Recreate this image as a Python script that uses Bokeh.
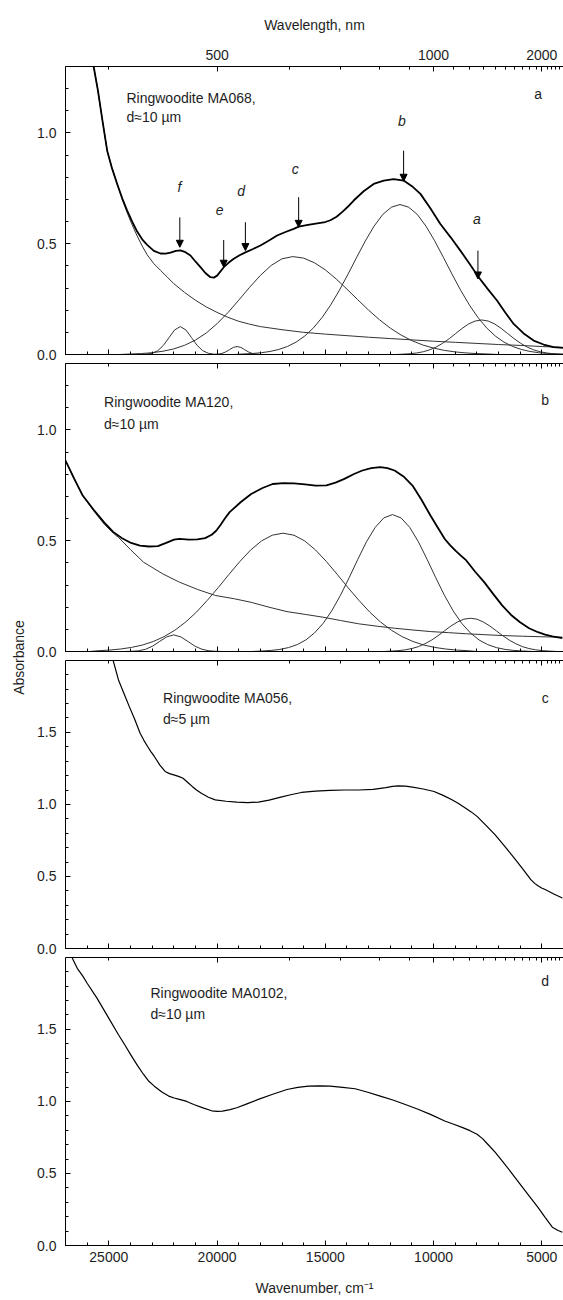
from math import pi
from bokeh.plotting import figure
from bokeh.layouts import column, row
from bokeh.models import (Range1d, LinearAxis, FixedTicker, SingleIntervalTicker,
                          PrintfTickFormatter, CustomJSTickFormatter, Label, Arrow,
                          NormalHead, ColumnDataSource)
from bokeh.embed import file_html
from bokeh.resources import INLINE

# ---------------- data (wavenumber cm-1, absorbance) ----------------
a_total = [(26100, 1.56), (25900, 1.42), (25700, 1.30), (25500, 1.19), (25300, 1.06), (25075, 0.92),
           (24850, 0.84), (24613, 0.77), (24380, 0.705), (24152, 0.65), (23920, 0.60), (23690, 0.555),
           (23460, 0.52), (23228, 0.495), (22920, 0.468), (22614, 0.456), (22380, 0.455), (22152, 0.460),
           (21900, 0.468), (21691, 0.470), (21460, 0.462), (21229, 0.447), (21000, 0.42), (20767, 0.394),
           (20540, 0.368), (20306, 0.349), (20150, 0.347), (19998, 0.356), (19850, 0.374), (19690, 0.394),
           (19460, 0.415), (19229, 0.432), (18960, 0.448), (18690, 0.461), (18340, 0.476), (17997, 0.492),
           (17600, 0.515), (17227, 0.537), (16840, 0.553), (16460, 0.567), (16229, 0.577), (15800, 0.585),
           (15300, 0.593), (15000, 0.598), (14766, 0.606), (14480, 0.622), (14200, 0.645), (13950, 0.668),
           (13690, 0.695), (13230, 0.737), (12767, 0.770), (12300, 0.785), (11843, 0.792), (11382, 0.785),
           (11000, 0.76), (10607, 0.725), (10150, 0.66), (9687, 0.589), (9220, 0.53), (8764, 0.469),
           (8340, 0.41), (7918, 0.349), (7495, 0.295), (7072, 0.244), (6690, 0.19), (6302, 0.138),
           (5840, 0.095), (5379, 0.063), (4920, 0.045), (4456, 0.033), (4000, 0.03)]
a_base = [(26100, 1.56), (25900, 1.42), (25700, 1.30), (25500, 1.19), (25300, 1.06), (25075, 0.92),
          (24850, 0.84), (24613, 0.77), (24380, 0.70), (24152, 0.64), (23920, 0.585), (23690, 0.535),
          (23460, 0.49), (23228, 0.45), (22920, 0.41), (22614, 0.38), (22306, 0.35), (22000, 0.32),
          (21500, 0.28), (21000, 0.245), (20500, 0.215), (20000, 0.19), (19500, 0.168), (19000, 0.15),
          (18500, 0.137), (18000, 0.126), (17000, 0.112), (16000, 0.10), (15000, 0.092), (14000, 0.085),
          (13000, 0.078), (12000, 0.072), (11000, 0.066), (10000, 0.060), (9000, 0.055), (8000, 0.050),
          (7000, 0.045), (6000, 0.041), (5000, 0.036), (4000, 0.032)]
a_band_f = [(23600, 0.0), (23260, 0.0014), (23000, 0.0055), (22740, 0.017), (22480, 0.041), (22220, 0.076),
            (21960, 0.111), (21700, 0.126), (21440, 0.111), (21180, 0.076), (20920, 0.041), (20660, 0.017),
            (20400, 0.0055), (20140, 0.0014), (19800, 0.0)]
a_band_d = [(20100, 0.0), (19950, 0.0016), (19775, 0.0049), (19600, 0.0117), (19425, 0.022), (19250, 0.032),
            (19075, 0.036), (18900, 0.032), (18725, 0.022), (18550, 0.0117), (18375, 0.0049), (18200, 0.0016),
            (18000, 0.0)]
a_band_c = [(24500, 0.0), (24000, 0.0022), (23500, 0.0043), (23000, 0.0081), (22500, 0.0147), (22000, 0.0253),
            (21500, 0.0416), (21000, 0.065), (20500, 0.097), (20000, 0.139), (19500, 0.189), (19000, 0.245),
            (18500, 0.303), (18000, 0.357), (17500, 0.402), (17000, 0.432), (16500, 0.442), (16000, 0.435),
            (15500, 0.414), (15000, 0.382), (14500, 0.341), (14000, 0.295), (13500, 0.247), (13000, 0.200),
            (12500, 0.157), (12000, 0.119), (11500, 0.0877), (11000, 0.0625), (10500, 0.043), (10000, 0.0288),
            (9500, 0.0186), (9000, 0.0116), (8500, 0.0070), (8000, 0.0041), (7500, 0.0023), (7000, 0.0)]
a_band_b = [(19200, 0.0), (18750, 0.0025), (18350, 0.0046), (17950, 0.0081), (17550, 0.0138), (17150, 0.0228),
            (16750, 0.0363), (16350, 0.056), (15950, 0.0835), (15550, 0.120), (15150, 0.167), (14750, 0.224),
            (14350, 0.290), (13950, 0.363), (13550, 0.439), (13150, 0.513), (12750, 0.579), (12350, 0.632),
            (11950, 0.665), (11550, 0.677), (11150, 0.665), (10750, 0.632), (10350, 0.579), (9950, 0.513),
            (9550, 0.439), (9150, 0.363), (8750, 0.290), (8350, 0.224), (7950, 0.167), (7550, 0.120),
            (7150, 0.0835), (6750, 0.056), (6350, 0.0363), (5950, 0.0228), (5550, 0.0138), (5150, 0.0081),
            (4750, 0.0046), (4350, 0.0025), (4000, 0.0015)]
a_band_a = [(11700, 0.0), (11380, 0.0017), (11080, 0.0036), (10780, 0.0069), (10480, 0.0124), (10180, 0.0211),
            (9880, 0.0337), (9580, 0.0507), (9280, 0.0714), (8980, 0.0946), (8680, 0.118), (8380, 0.138),
            (8080, 0.151), (7780, 0.156), (7480, 0.151), (7180, 0.138), (6880, 0.118), (6580, 0.0946),
            (6280, 0.0714), (5980, 0.0507), (5680, 0.0337), (5380, 0.0211), (5080, 0.0124), (4780, 0.0069),
            (4480, 0.0036), (4180, 0.0017), (4000, 0.001)]

b_total = [(27000, 0.862), (26600, 0.78), (26205, 0.704), (25700, 0.64), (25215, 0.583), (24800, 0.54),
           (24388, 0.511), (23970, 0.49), (23560, 0.478), (23150, 0.474), (22732, 0.476), (22350, 0.49),
           (21990, 0.505), (21738, 0.508), (21300, 0.505), (20910, 0.506), (20550, 0.512), (20247, 0.527),
           (20040, 0.545), (19850, 0.57), (19640, 0.600), (19419, 0.629), (18900, 0.675), (18425, 0.711),
           (17900, 0.738), (17432, 0.756), (16938, 0.760), (16438, 0.759), (15940, 0.754), (15444, 0.749),
           (14947, 0.750), (14530, 0.762), (14119, 0.779), (13700, 0.80), (13291, 0.817), (12880, 0.828),
           (12463, 0.832), (12130, 0.828), (11801, 0.817), (11390, 0.790), (10973, 0.749), (10560, 0.685),
           (10145, 0.614), (9810, 0.56), (9483, 0.508), (9240, 0.480), (8990, 0.455), (8740, 0.433),
           (8490, 0.411), (8080, 0.36), (7662, 0.313), (7250, 0.26), (6834, 0.208), (6420, 0.165),
           (6006, 0.132), (5590, 0.105), (5178, 0.087), (4850, 0.076), (4516, 0.068), (4052, 0.060)]
b_base = [(27000, 0.862), (26600, 0.78), (26205, 0.704), (25700, 0.635), (25215, 0.575), (24800, 0.535),
          (24553, 0.515), (24000, 0.46), (23394, 0.403), (22500, 0.35), (21738, 0.313), (20900, 0.28),
          (20082, 0.253), (19200, 0.238), (18425, 0.222), (17600, 0.20), (16770, 0.180), (15900, 0.167),
          (15114, 0.155), (14300, 0.14), (13458, 0.125), (12600, 0.114), (11801, 0.105), (10950, 0.097),
          (10145, 0.090), (9300, 0.085), (8490, 0.080), (7660, 0.076), (6834, 0.072), (5900, 0.069),
          (4800, 0.066), (4052, 0.065)]
b_band_f = [(24300, 0.0), (23950, 0.0008), (23625, 0.0033), (23300, 0.0101), (22975, 0.0244), (22650, 0.0455),
            (22325, 0.066), (22000, 0.075), (21675, 0.066), (21350, 0.0455), (21025, 0.0244), (20700, 0.0101),
            (20375, 0.0033), (20050, 0.0008), (19700, 0.0)]
b_band_c = [(25900, 0.0), (25450, 0.0038), (24950, 0.0066), (24450, 0.0113), (23950, 0.0185), (23450, 0.029),
            (22950, 0.045), (22450, 0.067), (21950, 0.096), (21450, 0.133), (20950, 0.178), (20450, 0.231),
            (19950, 0.288), (19450, 0.348), (18950, 0.406), (18450, 0.458), (17950, 0.499), (17450, 0.525),
            (16950, 0.534), (16450, 0.525), (15950, 0.499), (15450, 0.458), (14950, 0.406), (14450, 0.348),
            (13950, 0.288), (13450, 0.231), (12950, 0.178), (12450, 0.133), (11950, 0.096), (11450, 0.067),
            (10950, 0.045), (10450, 0.029), (9950, 0.0185), (9450, 0.0113), (8950, 0.0066), (8450, 0.0038),
            (8000, 0.0)]
b_band_b = [(18400, 0.0), (17900, 0.0024), (17500, 0.0049), (17100, 0.0095), (16700, 0.0177), (16300, 0.031),
            (15900, 0.052), (15500, 0.084), (15100, 0.127), (14700, 0.184), (14300, 0.254), (13900, 0.333),
            (13500, 0.416), (13100, 0.495), (12700, 0.560), (12300, 0.603), (11900, 0.618), (11500, 0.603),
            (11100, 0.560), (10700, 0.495), (10300, 0.416), (9900, 0.333), (9500, 0.254), (9100, 0.184),
            (8700, 0.127), (8300, 0.084), (7900, 0.052), (7500, 0.031), (7100, 0.0177), (6700, 0.0095),
            (6300, 0.0049), (5900, 0.0024), (5400, 0.0)]
b_band_a = [(12300, 0.0), (11900, 0.0021), (11600, 0.0041), (11300, 0.0077), (11000, 0.0135), (10700, 0.022),
            (10400, 0.035), (10100, 0.051), (9800, 0.071), (9500, 0.093), (9200, 0.115), (8900, 0.133),
            (8600, 0.146), (8300, 0.150), (8000, 0.146), (7700, 0.133), (7400, 0.115), (7100, 0.093),
            (6800, 0.071), (6500, 0.051), (6200, 0.035), (5900, 0.022), (5600, 0.0135), (5300, 0.0077),
            (5000, 0.0041), (4700, 0.0021), (4300, 0.0)]

c_total = [(25300, 2.3), (25000, 2.1), (24801, 2.0), (24553, 1.864), (24300, 1.77), (24053, 1.679),
           (23800, 1.59), (23553, 1.494), (23380, 1.445), (23200, 1.40), (23050, 1.365), (22897, 1.333),
           (22650, 1.275), (22400, 1.229), (22200, 1.214), (22000, 1.205), (21780, 1.195), (21572, 1.182),
           (21350, 1.152), (21150, 1.125), (20950, 1.100), (20744, 1.079), (20400, 1.05), (20082, 1.032),
           (19580, 1.022), (19088, 1.016), (18590, 1.013), (18094, 1.016), (17600, 1.03), (17100, 1.049),
           (16600, 1.067), (16107, 1.083), (15450, 1.092), (14782, 1.097), (14100, 1.10), (13450, 1.10),
           (12795, 1.104), (12200, 1.117), (11900, 1.125), (11636, 1.129), (11300, 1.127), (10974, 1.120),
           (10480, 1.107), (9980, 1.090), (9560, 1.063), (9152, 1.032), (8850, 1.006), (8570, 0.978),
           (8280, 0.950), (7993, 0.917), (7580, 0.855), (7165, 0.790), (6750, 0.715), (6337, 0.640),
           (5920, 0.56), (5509, 0.478), (5330, 0.452), (5180, 0.435), (5010, 0.420), (4847, 0.409),
           (4450, 0.378), (4052, 0.351)]

d_total = [(26800, 2.05), (26706, 2.0), (26457, 1.924), (26200, 1.87), (26000, 1.82), (25546, 1.717),
           (25050, 1.59), (24553, 1.463), (24250, 1.39), (23970, 1.32), (23680, 1.25), (23394, 1.187),
           (23150, 1.14), (22897, 1.106), (22550, 1.065), (22235, 1.037), (21980, 1.024), (21738, 1.014),
           (21400, 1.0), (21075, 0.979), (20650, 0.955), (20247, 0.935), (20000, 0.931), (19750, 0.933),
           (19400, 0.943), (19088, 0.956), (18590, 0.985), (18094, 1.014), (17430, 1.05), (16770, 1.083),
           (16270, 1.098), (15776, 1.106), (15280, 1.108), (14782, 1.106), (14200, 1.098), (13623, 1.088),
           (13040, 1.064), (12464, 1.037), (11880, 1.01), (11305, 0.979), (10720, 0.946), (10146, 0.910),
           (9484, 0.864), (9070, 0.842), (8656, 0.818), (8320, 0.797), (7993, 0.772), (7740, 0.742),
           (7497, 0.703), (7160, 0.648), (6834, 0.588), (6420, 0.508), (6006, 0.426), (5590, 0.345),
           (5178, 0.265), (4850, 0.195), (4516, 0.127), (4250, 0.104), (4052, 0.092)]

# band assignment arrows in panel a: (wavenumber, arrow top, arrow tip)
a_arrows = [(21720, 0.619, 0.484), (19694, 0.517, 0.394), (18692, 0.597, 0.469),
            (16232, 0.710, 0.574), (11385, 0.920, 0.782), (7952, 0.469, 0.341)]
a_band_letters = ["f", "e", "d", "c", "b", "a"]
a_letter_pos = [(21738, 0.755), (19878, 0.653), (18891, 0.737), (16384, 0.838), (11459, 1.053), (7998, 0.613)]

samples = ["Ringwoodite MA068,", "Ringwoodite MA120,", "Ringwoodite MA056,", "Ringwoodite MA0102,"]
thickness = ["d\u224810 \u00b5m", "d\u224810 \u00b5m", "d\u22485 \u00b5m", "d\u224810 \u00b5m"]
panel_tags = ["a", "b", "c", "d"]

# top axis (wavelength, nm)
wl_major_nm = [500, 1000, 2000]
wl_minor_nm = [400, 600, 700, 800, 900, 1100, 1200, 1300, 1400, 1500, 1600, 1700, 1800, 1900,
               2100, 2200, 2300, 2400]

FONT = "Liberation Sans"
TXT = "#1e1e1e"
LINE = "#333333"


def unzip(pairs):
    return [p[0] for p in pairs], [p[1] for p in pairs]


def style_axis(ax, labels):
    ax.axis_line_color = "black"
    ax.axis_line_width = 1
    ax.major_tick_line_color = "black"
    ax.minor_tick_line_color = "black"
    ax.major_tick_in = 5
    ax.major_tick_out = 0
    ax.minor_tick_in = 3
    ax.minor_tick_out = 0
    ax.major_label_text_font = FONT
    ax.major_label_text_font_size = "14px"
    ax.major_label_text_color = TXT if labels else None
    ax.major_label_standoff = 7 if labels else 0
    ax.axis_label_text_font = FONT
    ax.axis_label_text_font_size = "14px"
    ax.axis_label_text_font_style = "normal"
    ax.axis_label_text_color = TXT


def make_panel(ymax, frame_h, mb_top, mb_bottom, top_labels, bottom_labels):
    p = figure(frame_width=498, frame_height=frame_h,
               x_range=Range1d(27000, 4000), y_range=Range1d(0, ymax),
               output_backend="svg", toolbar_location=None,
               x_axis_location=None, y_axis_location=None,
               min_border_left=35, min_border_right=0,
               min_border_top=mb_top, min_border_bottom=mb_bottom)
    p.outline_line_color = None
    p.background_fill_color = "white"
    p.border_fill_color = "white"
    p.grid.visible = False

    top = LinearAxis(ticker=FixedTicker(ticks=[1e7 / n for n in wl_major_nm],
                                        minor_ticks=[1e7 / n for n in wl_minor_nm]),
                     formatter=CustomJSTickFormatter(code="return Math.round(1e7 / tick).toString()"))
    style_axis(top, top_labels)
    if top_labels:
        top.axis_label = "Wavelength, nm"
        top.axis_label_standoff = 14
    p.add_layout(top, "above")

    bottom = LinearAxis(ticker=SingleIntervalTicker(interval=5000, num_minor_ticks=5))
    style_axis(bottom, bottom_labels)
    if bottom_labels:
        bottom.axis_label = "Wavenumber, cm\u207b\u00b9"
        bottom.axis_label_standoff = 15
        bottom.major_label_standoff = 6
    p.add_layout(bottom, "below")

    left = LinearAxis(ticker=SingleIntervalTicker(interval=0.5, num_minor_ticks=5),
                      formatter=PrintfTickFormatter(format="%.1f"))
    style_axis(left, True)
    left.major_label_standoff = 9
    p.add_layout(left, "left")
    return p


def add_texts(p, idx, x_text, y1, y2, x_tag, y_tag):
    common = dict(text_font=FONT, text_font_size="14px", text_color=TXT, text_baseline="middle")
    p.add_layout(Label(x=x_text, y=y1, text=samples[idx], text_align="left", **common))
    p.add_layout(Label(x=x_text, y=y2, text=thickness[idx], text_align="left", **common))
    p.add_layout(Label(x=x_tag, y=y_tag, text=panel_tags[idx], text_align="center", **common))


def draw(p, pairs, color, width):
    x, y = unzip(pairs)
    p.line(x, y, line_color=color, line_width=width, line_join="round")


# ---------------- panel a ----------------
pa = make_panel(1.3, 288, 66, 8, True, False)
for band in (a_band_f, a_band_d, a_band_c, a_band_b, a_band_a, a_base):
    draw(pa, band, LINE, 1)
draw(pa, a_total, "black", 1.8)

arr_src = ColumnDataSource(dict(x=[a[0] for a in a_arrows], y0=[a[1] for a in a_arrows],
                                y1=[a[2] for a in a_arrows]))
pa.add_layout(Arrow(end=NormalHead(size=7, fill_color="black", line_color="black", line_width=1),
                    x_start="x", y_start="y0", x_end="x", y_end="y1", source=arr_src,
                    line_color="black", line_width=1))
for letter, (lx, ly) in zip(a_band_letters, a_letter_pos):
    pa.add_layout(Label(x=lx, y=ly, text=letter, text_font=FONT, text_font_size="14px",
                        text_font_style="italic", text_color=TXT, text_align="center",
                        text_baseline="middle"))
add_texts(pa, 0, 24185, 1.156, 1.074, 5169, 1.178)

# ---------------- panel b ----------------
pb = make_panel(1.3, 288, 1, 8, False, False)
for band in (b_band_f, b_band_c, b_band_b, b_band_a, b_base):
    draw(pb, band, LINE, 1)
draw(pb, b_total, "black", 1.8)
add_texts(pb, 1, 25218, 1.126, 1.029, 4846, 1.133)

# ---------------- panel c ----------------
pc = make_panel(1.999, 288, 1, 8, False, False)
draw(pc, c_total, "black", 1.2)
add_texts(pc, 2, 22495, 1.737, 1.592, 4846, 1.737)

# ---------------- panel d ----------------
pd_ = make_panel(1.999, 288, 1, 53, False, True)
draw(pd_, d_total, "black", 1.2)
add_texts(pd_, 3, 23077, 1.751, 1.606, 4846, 1.834)

# ---------------- shared y label ----------------
H = 362 + 297 + 297 + 342
lab = figure(width=30, height=H, x_range=Range1d(0, 30), y_range=Range1d(0, H),
             output_backend="svg", toolbar_location=None, min_border=0,
             x_axis_location=None, y_axis_location=None)
lab.outline_line_color = None
lab.grid.visible = False
lab.add_layout(Label(x=18.5, y=H - 657, text="Absorbance", angle=pi / 2, text_align="center",
                     text_baseline="middle", text_font=FONT, text_font_size="14px", text_color=TXT))

layout = row(lab, column(pa, pb, pc, pd_))
open("out.html", "w").write(file_html(layout, INLINE))
